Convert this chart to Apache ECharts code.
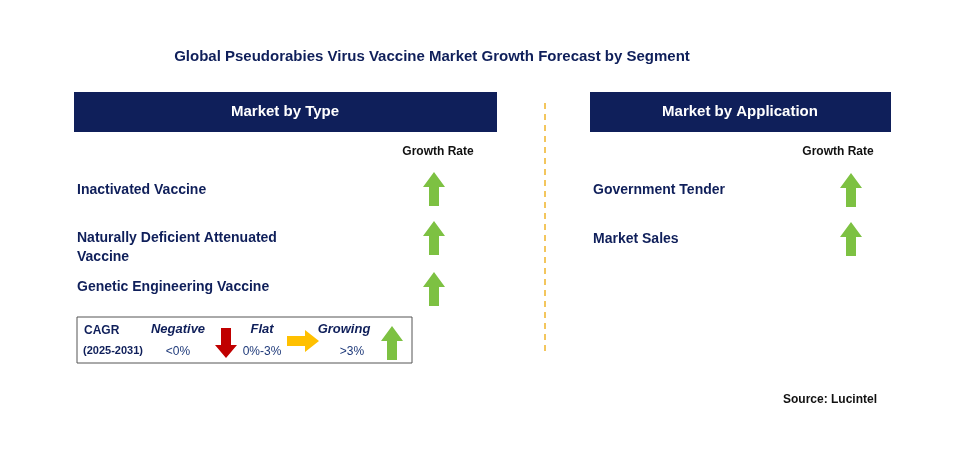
<!DOCTYPE html>
<html>
<head>
<meta charset="utf-8">
<script src="https://cdn.jsdelivr.net/npm/echarts@6/dist/echarts.min.js"></script>
<style>html,body{margin:0;padding:0;background:#fff}#main{width:955px;height:465px}</style>
</head>
<body>
<div id="main"></div>
<script>
// 数据
const title = 'Global Pseudorabies Virus Vaccine Market Growth Forecast by Segment';
const typeSegments = ['Inactivated Vaccine', 'Naturally Deficient Attenuated\nVaccine', 'Genetic Engineering Vaccine'];
const typeGrowth = ['up', 'up', 'up'];
const appSegments = ['Government Tender', 'Market Sales'];
const appGrowth = ['up', 'up'];
const legendLabels = ['Negative', 'Flat', 'Growing'];
const legendRanges = ['<0%', '0%-3%', '>3%'];

const navy = '#0f1f5a';
const font = '"Liberation Sans", Arial, sans-serif';

// 箭头
function arrow(cx, cy, dir) {
    let pts, color;
    if (dir === 'up') {
        color = '#7dc142';
        pts = [[cx - 11, cy - 2], [cx, cy - 17], [cx + 11, cy - 2], [cx + 5, cy - 2], [cx + 5, cy + 17], [cx - 5, cy + 17], [cx - 5, cy - 2]];
    } else if (dir === 'down') {
        color = '#c00000';
        pts = [[cx - 11, cy + 2], [cx, cy + 15], [cx + 11, cy + 2], [cx + 5, cy + 2], [cx + 5, cy - 15], [cx - 5, cy - 15], [cx - 5, cy + 2]];
    } else {
        color = '#ffc000';
        pts = [[cx + 16, cy], [cx + 2, cy - 11], [cx + 2, cy - 5], [cx - 16, cy - 5], [cx - 16, cy + 5], [cx + 2, cy + 5], [cx + 2, cy + 11]];
    }
    return { type: 'polygon', shape: { points: pts }, style: { fill: color } };
}

function text(x, y, t, opt) {
    return {
        type: 'text', x: x, y: y,
        style: Object.assign({ text: t, fill: navy, font: 'bold 14px ' + font, textVerticalAlign: 'middle' }, opt || {})
    };
}

let g = [];
g.push(text(432, 57, title, { textAlign: 'center', font: 'bold 15px ' + font }));

// 左侧面板
g.push({ type: 'rect', shape: { x: 74, y: 92, width: 423, height: 40 }, style: { fill: navy } });
g.push(text(285, 112, 'Market by Type', { fill: '#fff', textAlign: 'center', font: 'bold 15px ' + font }));
g.push(text(438, 152, 'Growth Rate', { textAlign: 'center', font: 'bold 12px ' + font, fill: '#111' }));
const typeY = [190, 248, 287];
const typeArrowY = [189, 238, 289];
typeSegments.forEach((s, i) => {
    g.push(text(77, typeY[i], s, { lineHeight: 19 }));
    g.push(arrow(434, typeArrowY[i], typeGrowth[i]));
});

// 右侧面板
g.push({ type: 'rect', shape: { x: 590, y: 92, width: 301, height: 40 }, style: { fill: navy } });
g.push(text(740, 112, 'Market by Application', { fill: '#fff', textAlign: 'center', font: 'bold 15px ' + font }));
g.push(text(838, 152, 'Growth Rate', { textAlign: 'center', font: 'bold 12px ' + font, fill: '#111' }));
const appY = [190, 239];
appSegments.forEach((s, i) => {
    g.push(text(593, appY[i], s));
    g.push(arrow(851, appY[i], appGrowth[i]));
});

// 虚线
g.push({ type: 'line', shape: { x1: 545, y1: 103, x2: 545, y2: 352 }, style: { stroke: '#f0b429', lineWidth: 1.5, lineDash: [6, 5] } });

// 图例
g.push({ type: 'rect', shape: { x: 77, y: 317, width: 335, height: 46 }, style: { fill: '#fff', stroke: '#555', lineWidth: 1 }, shadowBlur: 0 });
g.push(text(84, 331, 'CAGR', { font: 'bold 12px ' + font }));
g.push(text(83, 351, '(2025-2031)', { font: 'bold 11px ' + font }));
const legX = [178, 262, 344];
const legDir = ['down', 'right', 'up'];
const legArrowX = [226, 303, 392];
legendLabels.forEach((l, i) => {
    g.push(text(legX[i], 329, l, { textAlign: 'center', font: 'italic bold 13px ' + font }));
    g.push(text(legX[i] + (i === 2 ? 8 : 0), 352, legendRanges[i], { textAlign: 'center', font: '12px ' + font, fill: '#1f3a7a' }));
    g.push(arrow(legArrowX[i], i === 1 ? 341 : 343, legDir[i]));
});

g.push(text(877, 400, 'Source: Lucintel', { textAlign: 'right', font: 'bold 12px ' + font, fill: '#111' }));

const chart = echarts.init(document.getElementById('main'));
chart.setOption({ animation: false, graphic: { elements: g } });
</script>
</body>
</html>
